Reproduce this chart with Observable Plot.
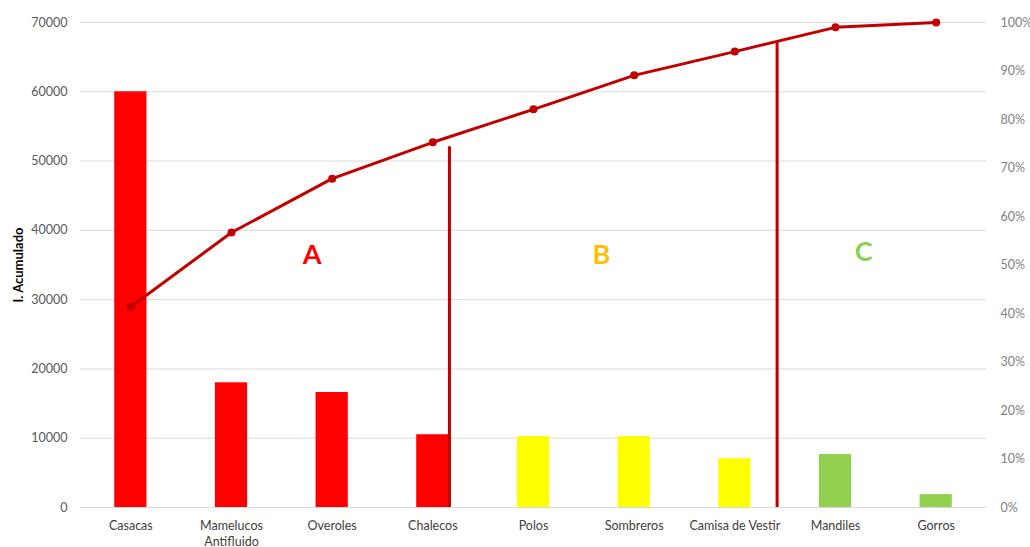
<!DOCTYPE html>
<html>
<head>
<meta charset="utf-8">
<script src="https://cdn.jsdelivr.net/npm/d3@7"></script>
<script src="https://cdn.jsdelivr.net/npm/@observablehq/plot@0.6"></script>
<style>
  html, body { margin: 0; padding: 0; background: #fff; }
  #chart svg { display: block; }
</style>
</head>
<body>
<div id="chart"></div>
<script>
// Data
const categories = ["Casacas", "Mamelucos\nAntifluido", "Overoles", "Chalecos", "Polos", "Sombreros", "Camisa de Vestir", "Mandiles", "Gorros"];
const values = [60000, 18000, 16600, 10500, 10250, 10250, 7050, 7650, 1850];
const cumulativePct = [41.4, 56.7, 67.8, 75.3, 82.1, 89.1, 94.0, 99.0, 100];
const zoneOfCategory = ["A", "A", "A", "A", "B", "B", "B", "C", "C"];
const zoneNames = ["A", "B", "C"];
const zoneColors = ["#FF0000", "#FFFF00", "#92D050"];
const zoneTextColors = ["#FF0000", "#FFC000", "#92D050"];
const zoneLabelX = [1.80, 4.675, 7.28];
const zoneLabelY = [36400, 36400, 36800];
const separatorX = [3.165, 6.42];
const separatorTopPct = [74.4, 96.1];
const leftTicks = [0, 10000, 20000, 30000, 40000, 50000, 60000, 70000];
const rightTicks = [0, 10, 20, 30, 40, 50, 60, 70, 80, 90, 100];
const yMax = 70000;
const pctToY = p => p / 100 * yMax;

const idx = categories.map((_, i) => i);
const bars = idx.map(i => ({i, value: values[i], zone: zoneOfCategory[i]}));
const line = idx.map(i => ({i, y: pctToY(cumulativePct[i])}));
const seps = separatorX.map((x, k) => ({x, y: pctToY(separatorTopPct[k])}));
const zones = zoneNames.map((z, k) => ({z, x: zoneLabelX[k], y: zoneLabelY[k], c: zoneTextColors[k]}));
const halfBar = 0.16;

const plot = Plot.plot({
  width: 1030,
  height: 547,
  marginLeft: 80,
  marginRight: 44,
  marginTop: 22,
  marginBottom: 40,
  style: {fontFamily: "Lato, 'Open Sans', sans-serif", fontSize: "12.5px", background: "#fff"},
  x: {type: "linear", domain: [-0.5, 8.5]},
  y: {domain: [0, yMax]},
  color: {domain: zoneNames, range: zoneColors},
  marks: [
    Plot.ruleY(leftTicks, {stroke: "#d9d9d9", strokeWidth: 1}),
    Plot.rectY(bars, {x1: d => d.i - halfBar, x2: d => d.i + halfBar, y: "value", fill: "zone"}),
    Plot.ruleX(seps, {x: "x", y1: 0, y2: "y", stroke: "#C00000", strokeWidth: 3}),
    Plot.line(line, {x: "i", y: "y", stroke: "#C00000", strokeWidth: 3}),
    Plot.dot(line, {x: "i", y: "y", r: 4, fill: "#C00000", stroke: "none"}),
    Plot.text(zones, {x: "x", y: "y", text: "z", fill: "c", fontSize: 27, fontWeight: "bold", fontFamily: "Lato, 'Open Sans', sans-serif"}),
    Plot.axisY({anchor: "left", ticks: leftTicks, tickSize: 0, tickPadding: 13, tickFormat: d => String(d), label: null, fill: "#595959", fontSize: 12.5}),
    Plot.axisY({anchor: "right", ticks: rightTicks.map(pctToY), tickSize: 0, tickPadding: 14, tickFormat: d => Math.round(d / yMax * 100) + "%", label: null, fill: "#7f7f7f", fontSize: 12.5}),
    Plot.axisX({ticks: idx, tickSize: 0, tickPadding: 11, lineHeight: 1.3, tickFormat: i => categories[i], label: null, fill: "#404040", fontSize: 12.5}),
    Plot.text(["I. Acumulado"], {frameAnchor: "left", dx: -62, textAnchor: "middle", rotate: -90, fontWeight: "bold", fontSize: 13, fill: "#000"})
  ]
});
document.getElementById("chart").appendChild(plot);
</script>
</body>
</html>
